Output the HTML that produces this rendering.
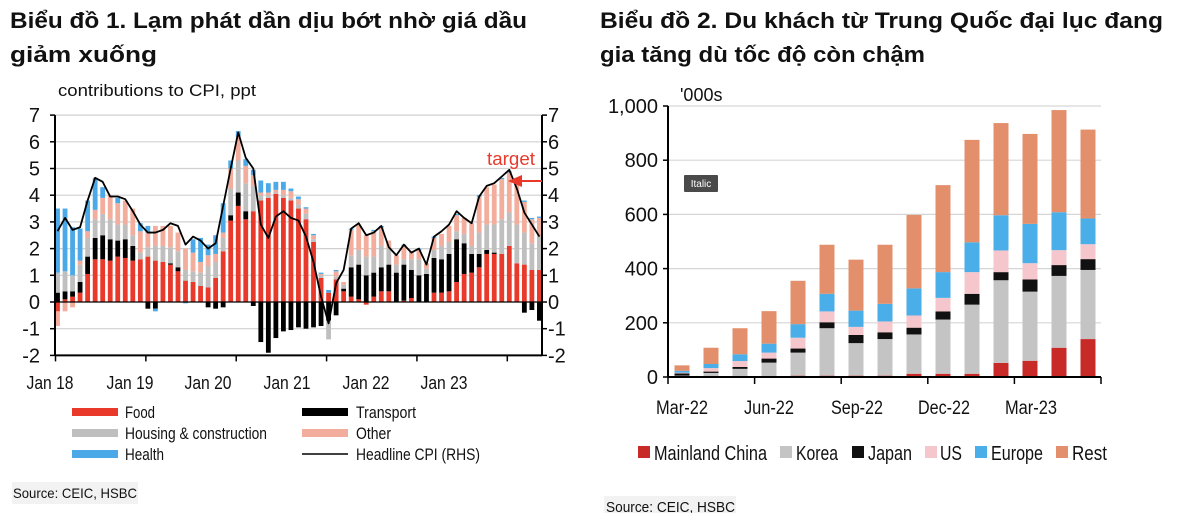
<!DOCTYPE html>
<html><head><meta charset="utf-8">
<style>
body{margin:0;width:1200px;height:513px;background:#fff;overflow:hidden;font-family:"Liberation Sans",sans-serif;}
svg{position:absolute;left:0;top:0;}
</style></head>
<body>
<svg width="1200" height="513" viewBox="0 0 1200 513" xmlns="http://www.w3.org/2000/svg" font-family="Liberation Sans, sans-serif">
<g font-weight="bold" font-size="22" fill="#111">
<text x="10" y="28" textLength="517" lengthAdjust="spacingAndGlyphs">Biểu đồ 1. Lạm phát dần dịu bớt nhờ giá dầu</text>
<text x="10" y="62" textLength="147" lengthAdjust="spacingAndGlyphs">giảm xuống</text>
</g>
<g font-weight="bold" font-size="22" fill="#111">
<text x="600" y="28" textLength="563" lengthAdjust="spacingAndGlyphs">Biểu đồ 2. Du khách từ Trung Quốc đại lục đang</text>
<text x="600" y="62" textLength="325" lengthAdjust="spacingAndGlyphs">gia tăng dù tốc độ còn chậm</text>
</g>
<text x="58" y="96" font-size="17" fill="#111" textLength="198" lengthAdjust="spacingAndGlyphs">contributions to CPI, ppt</text>
<text x="680" y="101" font-size="18" fill="#111">'000s</text>
<g id="c1"></g>
<g id="c2"></g>
<g font-size="18" fill="#111" text-anchor="middle">
<text x="50" y="389" textLength="47" lengthAdjust="spacingAndGlyphs">Jan 18</text><text x="130" y="389" textLength="47" lengthAdjust="spacingAndGlyphs">Jan 19</text><text x="208" y="389" textLength="47" lengthAdjust="spacingAndGlyphs">Jan 20</text><text x="287" y="389" textLength="47" lengthAdjust="spacingAndGlyphs">Jan 21</text><text x="366" y="389" textLength="47" lengthAdjust="spacingAndGlyphs">Jan 22</text><text x="444" y="389" textLength="47" lengthAdjust="spacingAndGlyphs">Jan 23</text>
</g>
<g font-size="17" fill="#111">
<rect x="72" y="408" width="46" height="8" fill="#e8392a"/><text x="125" y="418" textLength="30" lengthAdjust="spacingAndGlyphs">Food</text>
<rect x="302" y="408" width="46" height="8" fill="#000"/><text x="356" y="418" textLength="60" lengthAdjust="spacingAndGlyphs">Transport</text>
<rect x="72" y="429" width="46" height="8" fill="#bfbfbf"/><text x="125" y="439" textLength="142" lengthAdjust="spacingAndGlyphs">Housing &amp; construction</text>
<rect x="302" y="429" width="46" height="8" fill="#f2ad9c"/><text x="356" y="439" textLength="35" lengthAdjust="spacingAndGlyphs">Other</text>
<rect x="72" y="450" width="46" height="8" fill="#4aa9e6"/><text x="125" y="460" textLength="39" lengthAdjust="spacingAndGlyphs">Health</text>
<line x1="302" y1="454" x2="348" y2="454" stroke="#000" stroke-width="1.5"/><text x="356" y="460" textLength="124" lengthAdjust="spacingAndGlyphs">Headline CPI (RHS)</text>
</g>
<rect x="12" y="482" width="126" height="22" fill="#f2f2f2"/>
<text x="13" y="498" font-size="14" fill="#111" textLength="124" lengthAdjust="spacingAndGlyphs">Source: CEIC, HSBC</text>
<g font-size="19" fill="#111" text-anchor="middle">
<text x="682" y="414" textLength="52" lengthAdjust="spacingAndGlyphs">Mar-22</text><text x="769" y="414" textLength="50" lengthAdjust="spacingAndGlyphs">Jun-22</text><text x="857" y="414" textLength="52" lengthAdjust="spacingAndGlyphs">Sep-22</text><text x="944" y="414" textLength="52" lengthAdjust="spacingAndGlyphs">Dec-22</text><text x="1031" y="414" textLength="52" lengthAdjust="spacingAndGlyphs">Mar-23</text>
</g>
<g font-size="20" fill="#111">
<rect x="638" y="446" width="12" height="12" fill="#c82a27"/><text x="654" y="460" textLength="113" lengthAdjust="spacingAndGlyphs">Mainland China</text>
<rect x="780" y="446" width="12" height="12" fill="#c4c4c4"/><text x="796" y="460" textLength="42" lengthAdjust="spacingAndGlyphs">Korea</text>
<rect x="852" y="446" width="12" height="12" fill="#111"/><text x="868" y="460" textLength="44" lengthAdjust="spacingAndGlyphs">Japan</text>
<rect x="925" y="446" width="12" height="12" fill="#f5c6cb"/><text x="940" y="460" textLength="22" lengthAdjust="spacingAndGlyphs">US</text>
<rect x="975" y="446" width="12" height="12" fill="#4aaee8"/><text x="991" y="460" textLength="52" lengthAdjust="spacingAndGlyphs">Europe</text>
<rect x="1056" y="446" width="12" height="12" fill="#e38f6c"/><text x="1072" y="460" textLength="35" lengthAdjust="spacingAndGlyphs">Rest</text>
</g>
<rect x="604" y="496" width="132" height="17" fill="#f2f2f2"/>
<text x="606" y="512" font-size="15" fill="#111" textLength="129" lengthAdjust="spacingAndGlyphs">Source: CEIC, HSBC</text>
<g>
<rect x="684" y="175" width="34" height="17" fill="#4a4a4a" rx="1"/>
<text x="701" y="187" font-size="10" fill="#fff" text-anchor="middle">Italic</text>
</g>
<g>
<text x="487" y="165" font-size="18" fill="#e8392a" textLength="48" lengthAdjust="spacingAndGlyphs">target</text>
<line x1="542" y1="181" x2="520" y2="181" stroke="#e8392a" stroke-width="2"/>
<polygon points="508,181 522,175 522,187" fill="#e8392a"/>
</g>
</svg>
<script>
// Chart 1 data (monthly Jan18 - May23)
const food=[-0.35,0.1,0.2,0.35,1.05,1.6,1.6,1.55,1.7,1.65,1.55,1.6,1.7,1.55,1.5,1.4,1.15,0.8,0.75,0.6,0.55,0.9,1.9,3.05,3.6,3.1,3.4,3.8,3.9,4.05,3.9,3.8,3.5,3.1,2.25,0.9,0.35,0.85,0.4,0.2,0.1,-0.1,0.2,0.4,0.4,0,0.05,0.15,0,0,0.35,0.35,0.4,0.75,1.05,1.1,1.3,1.8,1.8,1.8,2.1,1.45,1.4,1.2,1.2];
const transport=[0.35,0.3,0.2,0.4,0.65,0.8,0.9,0.8,0.6,0.7,0.55,0,-0.25,-0.25,0,0.05,0.15,0,0,0,-0.2,-0.25,-0.2,0.2,0.5,0.3,-0.15,-1.5,-1.9,-1.35,-1.1,-1.05,-0.95,-1.0,-0.95,-0.9,-0.7,-0.5,0.1,1.1,1.3,1.0,0.9,0.9,1.0,1.1,1.35,1.05,1.0,1.05,1.3,1.25,1.4,1.6,1.15,0.7,0.5,0.15,0.05,0,0,0,-0.4,-0.3,-0.7];
const housing=[0.75,0.75,0.6,0.65,0.7,0.7,0.8,0.75,0.6,0.55,0.4,0.25,0.35,0.55,0.6,0.6,0.6,0.4,0.4,0.5,0.8,0.6,0.5,1.0,1.2,1.05,0.95,0.2,0.1,0.05,0.1,0.1,0.15,0.2,0.1,0.1,-0.7,0.1,0.15,0.45,0.55,0.7,0.6,0.8,0.6,0.3,0.2,0.4,0.6,0.2,0.3,0.5,0.45,0.3,0.35,0.3,0.8,0.95,1.05,1.3,1.25,1.45,1.2,1.0,1.25];
const other=[-0.55,-0.35,-0.2,0.15,0.25,0.35,0.6,0.9,0.8,0.9,1.0,0.8,0.55,0.75,0.75,0.8,0.7,0.8,0.7,0.4,0.4,0.3,0.2,0.75,0.9,0.65,0.4,0.1,0.1,0.1,0.2,0.25,0.2,0.2,0.15,0.05,0,0.2,0.1,0.95,0.95,0.8,0.95,0.7,0.3,0.35,0.5,0.3,0.35,0.2,0.45,0.45,0.6,0.6,0.6,0.85,1.35,1.4,1.5,1.5,1.5,1.55,1.15,0.9,0.7];
const health=[2.4,2.35,1.8,1.2,1.15,1.2,0.4,0,0.2,0,0,0.3,0.25,-0.1,0,0,0,-0.05,0.5,0.9,0.4,0.7,1.1,0.3,0.2,0.25,0.2,0.45,0.35,0.3,0.3,0.1,0.1,0.05,0.05,0.05,0.1,0.05,0,0.05,0,0,0.05,0.05,0,0,0.05,0,0.05,0,0.05,0,0,0.05,0,0,0.05,0,0,0.05,0.05,0,0.05,0.05,0.05];
const cpi=[2.65,3.15,2.7,2.8,3.8,4.65,4.5,3.95,3.95,3.85,3.4,2.9,2.6,2.6,2.7,2.95,2.85,2.15,2.45,2.3,2.0,2.2,3.6,5.0,6.35,5.4,5.0,2.9,2.4,3.2,3.4,3.15,3.05,2.45,1.5,0.2,-0.8,0.7,1.2,2.75,2.95,2.5,2.6,2.85,2.05,1.75,2.15,1.85,2.0,1.4,2.45,2.65,2.9,3.4,3.15,2.95,3.95,4.35,4.45,4.7,4.95,4.25,3.35,2.9,2.45];
const c1Ticks=[-2,-1,0,1,2,3,4,5,6,7];
// Chart 2 data (Mar22 - May23)
const c2Months=["Mar-22","Apr-22","May-22","Jun-22","Jul-22","Aug-22","Sep-22","Oct-22","Nov-22","Dec-22","Jan-23","Feb-23","Mar-23","Apr-23","May-23"];
const china=[0,0,0,3,5,5,5,5,12,12,12,52,60,108,140];
const korea=[5,15,30,50,85,175,120,135,145,200,255,305,255,265,255];
const japan=[8,5,7,15,15,22,30,25,25,30,40,30,45,40,40];
const us=[3,13,22,22,40,40,30,40,45,50,80,80,60,55,55];
const europe=[7,15,25,33,50,65,60,65,100,95,110,130,145,140,95];
const rest=[20,60,96,120,160,181,188,218,271,321,378,340,332,377,328];
const c2Ticks=[0,200,400,600,800,1000];
const c2TickLabels=["0","200","400","600","800","1,000"];

const NS="http://www.w3.org/2000/svg";
function mk(parent,tag,attrs){const e=document.createElementNS(NS,tag);for(const k in attrs)e.setAttribute(k,attrs[k]);parent.appendChild(e);return e;}

// chart1
const g1=document.getElementById('c1');
const X0=55,X1=542;
const y1=v=>302-v*26.7;
const x1=m=>57.5+m*7.53;
c1Ticks.forEach(t=>{
 if(t!==0){const l=mk(g1,'line',{x1:X0,x2:X1,y1:y1(t),y2:y1(t),stroke:'#d0d0d0','stroke-width':1.2});
 
 }
 const a=mk(g1,'text',{x:40,y:y1(t)+7,'font-size':20,'text-anchor':'end',fill:'#111'});a.textContent=t;
 
 
 const b=mk(g1,'text',{x:548,y:y1(t)+7,'font-size':20,fill:'#111'});b.textContent=t;
 
 
 mk(g1,'line',{x1:X1,x2:X1+5,y1:y1(t),y2:y1(t),stroke:'#000','stroke-width':1.5});
 mk(g1,'line',{x1:X0-5,x2:X0,y1:y1(t),y2:y1(t),stroke:'#000','stroke-width':1.5});
});
const series1=[[food,'#e8392a','food'],[transport,'#000','transport'],[housing,'#bfbfbf','housing'],[other,'#f2ad9c','other'],[health,'#4aa9e6','health']];
for(let m=0;m<food.length;m++){
 let pos=0,neg=0;
 series1.forEach(([arr,col,nm])=>{
  const v=arr[m];if(!v)return;
  let a,b;
  if(v>0){a=pos;b=pos+v;pos=b;}else{a=neg;b=neg+v;neg=b;}
  const r=mk(g1,'rect',{x:x1(m)-2.4,width:4.8,y:Math.min(y1(a),y1(b)),height:Math.abs(y1(a)-y1(b)),fill:col});
  
  
 });
}
const zl=mk(g1,'line',{x1:X0,x2:X1,y1:y1(0),y2:y1(0),stroke:'#000','stroke-width':1.2});


const pl=mk(g1,'polyline',{points:cpi.map((v,m)=>x1(m)+','+y1(v)).join(' '),fill:'none',stroke:'#000','stroke-width':1.8,'stroke-linejoin':'round'});


mk(g1,'line',{x1:X0,x2:X0,y1:y1(7),y2:y1(-2),stroke:'#000','stroke-width':2});
mk(g1,'line',{x1:X1,x2:X1,y1:y1(7),y2:y1(-2),stroke:'#000','stroke-width':2});
mk(g1,'line',{x1:X0,x2:X1,y1:y1(-2),y2:y1(-2),stroke:'#000','stroke-width':2});
for(let k=0;k<=5;k++){const xx=x1(12*k)-2;mk(g1,'line',{x1:xx,x2:xx,y1:y1(-2),y2:y1(-2)+6,stroke:'#000','stroke-width':1.5});}

// chart2
const g2=document.getElementById('c2');
const Y0=377,ppu=0.271,L=668,R=1101;
const y2=v=>Y0-v*ppu;
const x2=i=>682+i*29;
c2Ticks.forEach((t,i)=>{
 if(t!==0){const l=mk(g2,'line',{x1:L,x2:R,y1:y2(t),y2:y2(t),stroke:'#d6d6d6','stroke-width':1.2});
 
 }
 const a=mk(g2,'text',{x:658,y:y2(t)+7,'font-size':20,'text-anchor':'end',fill:'#111'});a.textContent=c2TickLabels[i];
 
 
 mk(g2,'line',{x1:L-5,x2:L,y1:y2(t),y2:y2(t),stroke:'#000','stroke-width':1.5});
});
const series2=[[china,'#c82a27','china'],[korea,'#c4c4c4','korea'],[japan,'#111','japan'],[us,'#f5c6cb','us'],[europe,'#4aaee8','europe'],[rest,'#e38f6c','rest']];
c2Months.forEach((mo,i)=>{
 let acc=0;
 series2.forEach(([arr,col,nm])=>{
  const v=arr[i];
  const r=mk(g2,'rect',{x:x2(i)-7.5,width:15,y:y2(acc+v),height:v*ppu,fill:col});
  
  
  acc+=v;
 });
});
mk(g2,'line',{x1:L,x2:L,y1:y2(1000),y2:Y0,stroke:'#000','stroke-width':2});
mk(g2,'line',{x1:L,x2:R,y1:Y0,y2:Y0,stroke:'#000','stroke-width':2});
for(let k=0;k<=5;k++){const xx=L+k*86.6;mk(g2,'line',{x1:xx,x2:xx,y1:Y0,y2:Y0+7,stroke:'#000','stroke-width':1.5});}
</script>
</body></html>
